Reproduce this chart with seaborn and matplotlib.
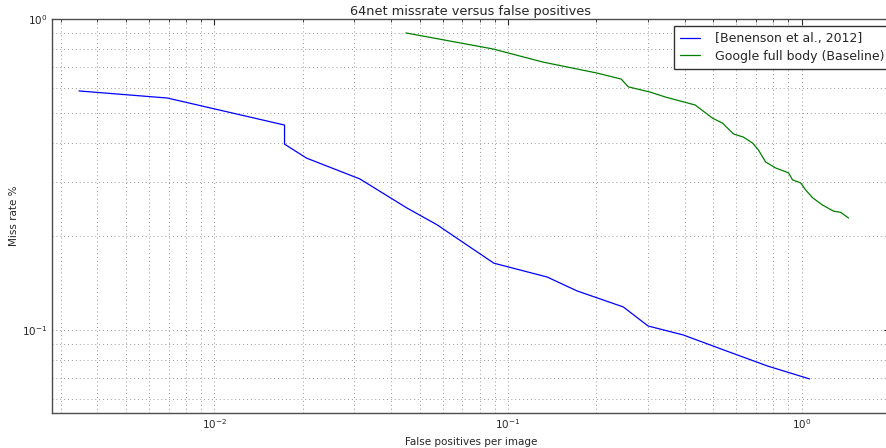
import matplotlib
matplotlib.use('Agg')
import matplotlib.pyplot as plt
import seaborn as sns
import pandas as pd

# Benenson et al., 2012 curve (false positives per image, miss rate)
benenson_fppi = [0.00346, 0.00692, 0.01734, 0.01734, 0.0206, 0.0313, 0.0452,
                 0.0573, 0.0895, 0.136, 0.172, 0.247, 0.300, 0.395, 0.542,
                 0.765, 1.064]
benenson_miss = [0.587, 0.557, 0.456, 0.396, 0.357, 0.306, 0.247,
                 0.218, 0.164, 0.148, 0.1335, 0.1186, 0.103, 0.0964, 0.0863,
                 0.0766, 0.0696]

# Google full body baseline curve
google_fppi = [0.0449, 0.0889, 0.1315, 0.2013, 0.243, 0.257, 0.305, 0.344,
               0.434, 0.497, 0.537, 0.586, 0.634, 0.681, 0.713, 0.754, 0.815,
               0.903, 0.931, 0.993, 1.032, 1.091, 1.18, 1.285, 1.358, 1.446]
google_miss = [0.902, 0.801, 0.727, 0.670, 0.641, 0.605, 0.582, 0.561,
               0.529, 0.480, 0.463, 0.427, 0.417, 0.399, 0.379, 0.347, 0.332,
               0.320, 0.304, 0.297, 0.282, 0.266, 0.252, 0.241, 0.239, 0.229]

series_names = ['[Benenson et al., 2012]', 'Google full body (Baseline)']

df = pd.concat([
    pd.DataFrame({'fppi': benenson_fppi, 'miss': benenson_miss, 'method': series_names[0]}),
    pd.DataFrame({'fppi': google_fppi, 'miss': google_miss, 'method': series_names[1]}),
], ignore_index=True)

sns.set_style('white')
plt.rcParams['font.family'] = ['DejaVu Sans']

fig = plt.figure(figsize=(8.86, 4.48), dpi=100)
ax = fig.add_axes([52 / 886, 1 - 412.7 / 448, (890 - 52) / 886, (412.7 - 19) / 448])

sns.lineplot(data=df, x='fppi', y='miss', hue='method', sort=False, estimator=None,
             palette=['#0000ff', '#008000'], linewidth=0.9, ax=ax, legend=False)

ax.set_xscale('log')
ax.set_yscale('log')
ax.set_xlim(0.0028, 2.0)
ax.set_ylim(0.0542, 1.0)

ax.grid(True, which='both', linestyle=(0, (1, 3)), color='0.6', linewidth=0.7)
ax.tick_params(which='both', direction='in', top=True, right=True, labelsize=7.5,
               colors='0.15')
ax.tick_params(which='major', length=4)
ax.tick_params(which='minor', length=2)
for sp in ax.spines.values():
    sp.set_color('0.3')
    sp.set_linewidth(1.0)

ax.set_title('64net missrate versus false positives', fontsize=9.3, pad=3)
ax.set_xlabel('False positives per image', fontsize=7.5, labelpad=4)
ax.set_ylabel('Miss rate %', fontsize=7.5, labelpad=2)

handles = ax.get_lines()[:2]
leg = fig.legend(handles, series_names, loc='upper right',
                 bbox_to_anchor=(891 / 886, 1 - 26 / 448), borderaxespad=0,
                 fontsize=9.0, fancybox=False, framealpha=1, edgecolor='0.2',
                 handlelength=1.6, handletextpad=1.2, borderpad=0.5,
                 labelspacing=0.35)
leg.get_frame().set_linewidth(1.0)

fig.savefig('out.png', dpi=100)
